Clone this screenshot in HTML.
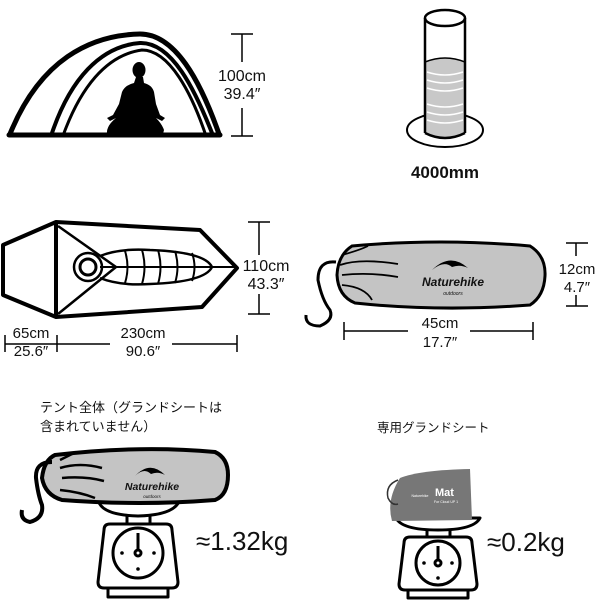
<!DOCTYPE html>
<html><head><meta charset="utf-8"><style>
body{margin:0;background:#fff;}
svg{display:block;}
text{font-family:"Liberation Sans","Noto Sans CJK JP",sans-serif;fill:#111;}
</style></head><body>
<svg width="600" height="600" viewBox="0 0 600 600" xmlns="http://www.w3.org/2000/svg">
<!-- Tent side -->
<g fill="none" stroke="#000" stroke-linecap="round">
<path d="M10,134 C40,60 90,35 140,34 C175,34 200,80 219,134" stroke-width="5"/>
<path d="M52,133 C70,80 100,46 140,43 C172,42 195,90 212,133" stroke-width="4"/>
<path d="M64,133 C80,90 105,55 142,50 C170,50 192,95 205,133" stroke-width="3"/>
<line x1="9" y1="135" x2="220" y2="135" stroke-width="5"/>
</g>
<g fill="#000">
<ellipse cx="139" cy="70" rx="6.5" ry="8"/>
<path d="M136,77 L143,77 L144,83 Q152,85 154,92 L156,104 L160,115 L165,118 L162,121 L156,118 Q162,124 164,130 L163,134 L107,134 Q106,126 116,118 L110,121 L107,118 L113,115 L119,104 L122,92 Q125,85 134,83 Z"/>
</g>
<g stroke="#000" stroke-width="1.5">
<line x1="242" y1="34" x2="242" y2="62"/><line x1="242" y1="108" x2="242" y2="136"/>
<line x1="231" y1="34" x2="253" y2="34"/><line x1="231" y1="136" x2="253" y2="136"/>
</g>
<text x="242" y="81" font-size="16" text-anchor="middle">100cm</text>
<text x="242" y="99" font-size="16" text-anchor="middle">39.4″</text>

<!-- Cylinder -->
<ellipse cx="445" cy="130" rx="38" ry="17" fill="none" stroke="#000" stroke-width="2"/>
<path d="M425,62 Q445,54 465,62 L465,133 Q445,141 425,133 Z" fill="#c8c8c8"/>
<g stroke="#fff" stroke-width="1.5" fill="none">
<path d="M427,72 Q445,78 463,72"/><path d="M427,80 Q445,86 463,80"/><path d="M427,88 Q445,94 463,88"/>
<path d="M427,104 Q445,110 463,104"/><path d="M427,112 Q445,118 463,112"/><path d="M427,120 Q445,126 463,120"/>
</g>
<path d="M425,62 Q445,54 465,62" fill="none" stroke="#000" stroke-width="1.5"/>
<g fill="none" stroke="#000" stroke-width="2.5">
<line x1="425" y1="18" x2="425" y2="133"/><line x1="465" y1="18" x2="465" y2="133"/>
<ellipse cx="445" cy="18" rx="20" ry="8"/>
<path d="M425,133 Q445,143 465,133"/>
</g>
<text x="445" y="178" font-size="17" font-weight="bold" text-anchor="middle">4000mm</text>

<!-- Floor plan -->
<g fill="none" stroke="#000" stroke-linejoin="round">
<path d="M3,245 L56,222 L200,230 L237,268 L202,307 L56,317 L3,295 Z" stroke-width="4"/>
<line x1="56" y1="222" x2="56" y2="317" stroke-width="4"/>
<path d="M58,226 L116,267 L58,314" stroke-width="2.5"/>
<line x1="100" y1="267" x2="236" y2="267" stroke-width="2"/>
<path d="M100,256 Q120,248 150,250 Q205,252 212,267 Q205,282 150,284 Q120,286 100,278" stroke-width="2.5"/>
<g stroke-width="2"><path d="M125,251 Q130,267 125,283"/><path d="M142,250 Q147,267 142,284"/><path d="M158,250 Q163,267 158,284"/><path d="M175,251 Q180,267 175,283"/><path d="M192,253 Q197,267 192,281"/></g>
<circle cx="88" cy="267" r="14" stroke-width="2.5"/>
<circle cx="88" cy="267" r="8" stroke-width="3"/>
</g>
<g stroke="#000" stroke-width="1.5">
<line x1="259" y1="222" x2="259" y2="255"/><line x1="259" y1="294" x2="259" y2="314"/>
<line x1="248" y1="222" x2="270" y2="222"/><line x1="248" y1="314" x2="270" y2="314"/>
<line x1="5" y1="344" x2="110" y2="344"/><line x1="172" y1="344" x2="237" y2="344"/>
<line x1="5" y1="335" x2="5" y2="352"/><line x1="57" y1="335" x2="57" y2="352"/><line x1="237" y1="335" x2="237" y2="352"/>
</g>
<text x="266" y="271" font-size="16" text-anchor="middle">110cm</text>
<text x="266" y="289" font-size="16" text-anchor="middle">43.3″</text>
<text x="31" y="338" font-size="15" text-anchor="middle">65cm</text>
<text x="31" y="356" font-size="15" text-anchor="middle">25.6″</text>
<text x="143" y="338" font-size="15" text-anchor="middle">230cm</text>
<text x="143" y="356" font-size="15" text-anchor="middle">90.6″</text>

<!-- Stuff sack -->
<path d="M352,246 Q440,238 530,246 Q546,256 545,276 Q544,296 530,305 Q440,312 355,303 Q338,296 337,275 Q338,255 352,246 Z" fill="#c4c4c4" stroke="#000" stroke-width="3"/>
<g fill="none" stroke="#000" stroke-width="1.8">
<path d="M340,265 Q360,258 398,264"/><path d="M342,275 Q370,272 398,277"/><path d="M342,285 Q365,287 372,300"/><path d="M342,255 Q360,250 368,246"/>
<path d="M336,262 Q318,260 318,280 Q322,300 330,310 Q334,320 320,326 Q305,326 306,315" stroke-width="3"/>
</g>
<path d="M432,270 Q450,252 468,268 Q460,264 452,267 Q444,260 432,270 Z" fill="#000"/>
<text x="453" y="286" font-size="12" font-weight="bold" font-style="italic" text-anchor="middle">Naturehike</text>
<text x="453" y="295" font-size="5" font-style="italic" text-anchor="middle">outdoors</text>
<g stroke="#000" stroke-width="1.5">
<line x1="576" y1="243" x2="576" y2="256"/><line x1="576" y1="295" x2="576" y2="306"/>
<line x1="566" y1="243" x2="588" y2="243"/><line x1="566" y1="306" x2="588" y2="306"/>
<line x1="344" y1="331" x2="408" y2="331"/><line x1="470" y1="331" x2="533" y2="331"/>
<line x1="344" y1="322" x2="344" y2="340"/><line x1="533" y1="322" x2="533" y2="340"/>
</g>
<text x="577" y="274" font-size="15" text-anchor="middle">12cm</text>
<text x="577" y="292" font-size="15" text-anchor="middle">4.7″</text>
<text x="440" y="328" font-size="15" text-anchor="middle">45cm</text>
<text x="440" y="347" font-size="15" text-anchor="middle">17.7″</text>

<!-- Bottom texts -->
<text x="40" y="412" font-size="13">テント全体（グランドシートは</text>
<text x="40" y="431" font-size="13">含まれていません）</text>
<text x="377" y="432" font-size="12.5">専用グランドシート</text>

<!-- Scale 1 -->
<g fill="none" stroke="#000" stroke-width="3" stroke-linejoin="round">
<path d="M98,499 Q100,515 138,516 Q176,515 180,499"/>
<line x1="127" y1="516" x2="127" y2="524"/><line x1="150" y1="516" x2="150" y2="524"/>
<line x1="120" y1="524" x2="158" y2="524"/>
<path d="M110,524 L166,524 Q172,524 172,530 L178,582 Q178,588 172,588 L104,588 Q98,588 98,582 L104,530 Q104,524 110,524 Z"/>
<path d="M108,589 L108,597 L168,597 L168,589"/>
<circle cx="138" cy="553" r="25"/>
<line x1="138" y1="533" x2="138" y2="550"/>
<circle cx="138" cy="553" r="3"/>
</g>
<g fill="#000"><circle cx="122" cy="553" r="1.8"/><circle cx="154" cy="553" r="1.8"/><circle cx="138" cy="569" r="1.8"/></g>
<g transform="translate(300,0)">
<g fill="none" stroke="#000" stroke-width="3" stroke-linejoin="round">
<path d="M96,518 Q102,530 138,530 Q174,530 180,518 Z"/>
<line x1="127" y1="530" x2="127" y2="537"/><line x1="150" y1="530" x2="150" y2="537"/>
<path d="M110,537 L166,537 Q172,537 172,543 L177,584 Q177,590 171,590 L105,590 Q99,590 99,584 L104,543 Q104,537 110,537 Z"/>
<path d="M108,591 L108,598 L168,598 L168,591"/>
<circle cx="138" cy="563" r="22"/>
<line x1="138" y1="546" x2="138" y2="560"/>
<circle cx="138" cy="563" r="3"/>
</g>
<g fill="#000"><circle cx="124" cy="563" r="1.8"/><circle cx="152" cy="563" r="1.8"/><circle cx="138" cy="578" r="1.8"/></g>
</g>

<!-- Bag on scale 1 -->
<path d="M55,455 Q140,445 215,452 Q228,458 228,475 Q228,495 215,500 Q140,506 62,500 Q45,495 42,478 Q44,460 55,455 Z" fill="#c4c4c4" stroke="#000" stroke-width="4"/>
<g fill="none" stroke="#000" stroke-width="2.5">
<path d="M60,468 Q80,462 102,468"/><path d="M62,478 Q85,476 104,481"/><path d="M60,490 Q80,492 95,498"/><path d="M60,460 Q68,456 76,452"/>
<path d="M52,462 Q35,462 36,478 Q38,495 42,505 Q44,518 30,522 Q20,520 22,510" stroke-width="4"/>
</g>
<path d="M135,476 Q150,460 165,475 Q158,471 151,474 Q144,467 135,476 Z" fill="#000"/>
<text x="152" y="490" font-size="10.5" font-weight="bold" font-style="italic" text-anchor="middle">Naturehike</text>
<text x="152" y="498" font-size="4.5" font-style="italic" text-anchor="middle">outdoors</text>
<text x="196" y="550" font-size="26">≈1.32kg</text>

<!-- Mat pouch -->
<path d="M400,478 Q420,470 470,469 L472,520 L392,521 Q386,500 400,478 Z" fill="#777"/>
<path d="M398,480 Q385,485 388,498 Q392,506 398,504" fill="none" stroke="#333" stroke-width="1.5"/>
<text x="435" y="496" font-size="11" font-weight="bold" style="fill:#fff">Mat</text>
<text x="434" y="503" font-size="3.5" style="fill:#fff">For Cloud UP 1</text>
<text x="420" y="497" font-size="3.5" text-anchor="middle" style="fill:#fff">Naturehike</text>
<text x="487" y="551" font-size="26">≈0.2kg</text>
</svg>
</body></html>
